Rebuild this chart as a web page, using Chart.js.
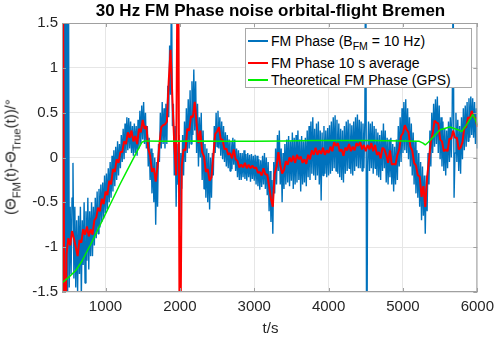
<!DOCTYPE html>
<html>
<head>
<meta charset="utf-8">
<title>30 Hz FM Phase noise orbital-flight Bremen</title>
<script src="https://cdn.jsdelivr.net/npm/chart.js@4.4.1/dist/chart.umd.min.js"></script>
<style>
  html, body { margin: 0; padding: 0; background: #fff; }
  #wrap { position: relative; width: 500px; height: 338px; font-family: "Liberation Sans", Arial, Helvetica, sans-serif; color: #262626; }
  #chart { position: absolute; left: 0; top: 0; }
  .title { position: absolute; left: 62px; width: 417px; top: 2px; line-height: 18px; text-align: center; font-weight: bold; font-size: 17px; color: #000; white-space: nowrap; }
  .xlabel { position: absolute; left: 62px; width: 417px; top: 319px; line-height: 18px; text-align: center; font-size: 15px; }
  .ylabel { position: absolute; left: 11px; top: 157px; line-height: 18px; transform: translate(-50%, -50%) rotate(-90deg); white-space: nowrap; font-size: 15px; font-weight: normal; }
  .sub { font-size: 0.75em; position: relative; top: 0.4em; }
  #legend { position: absolute; left: 245px; top: 28px; width: 227px; height: 60px; border: 1px solid #a8a8a8; box-sizing: border-box; background: #fff; font-size: 14px; color: #000; }
  .item { position: absolute; left: 2px; line-height: 16px; white-space: nowrap; }
  .swatch { display: inline-block; width: 20px; height: 2px; vertical-align: middle; margin-right: 3px; position: relative; top: -1px; }
</style>
</head>
<body>
<div id="wrap">
  <canvas id="chart" width="500" height="338"></canvas>
  <div class="title">30 Hz FM Phase noise orbital-flight Bremen</div>
  <div class="xlabel">t/s</div>
  <div class="ylabel">(&Theta;<span class="sub">FM</span>(t)-&Theta;<span class="sub">True</span>(t))/&deg;</div>
  <div id="legend">
    <div class="item" style="top:4px"><span class="swatch" style="background:#0072bd"></span>FM Phase (B<span class="sub">FM</span> = 10 Hz)</div>
    <div class="item" style="top:26px"><span class="swatch" style="background:#ff0000"></span>FM Phase 10 s average</div>
    <div class="item" style="top:43px"><span class="swatch" style="background:#00ee00"></span>Theoretical FM Phase (GPS)</div>
  </div>
</div>
<script>
// ---- data ----
// raw FM phase: one sample every 12.5 s from 425 s, 16 samples (200 s) per row
const rawStart = 425;
const rawStep = 12.5;
const fmPhase = [
  3, -3, 3, -3, 3, -3, 3, -1.45, -0.55, -1.30, -0.45, -0.06, -1.35, -0.55, -1.45, -0.70,               // 425
  -1.50, -0.65, -1.30, -0.55, -1.55, -0.70, -1.20, -0.50, -1.40, -0.60, -1.15, -0.45, -1.25, -0.60, -1.10, -0.50, // 625
  -1.10, -0.55, -0.98, -0.45, -0.90, -0.38, -0.85, -0.35, -0.78, -0.30, -0.72, -0.28, -0.68, -0.20, -0.62, -0.18, // 825
  -0.58, -0.12, -0.50, -0.05, -0.45, 0.02, -0.38, 0.08, -0.32, 0.12, -0.25, 0.18, -0.20, 0.15, -0.12, 0.25,       // 1025
  -0.05, 0.32, -0.02, 0.38, 0.05, 0.45, 0.08, 0.44, 0.10, 0.40, 0.05, 0.35, 0.02, 0.38, 0.05, 0.35,              // 1225
  0.02, 0.42, 0.10, 0.52, 0.15, 0.58, 0.20, 0.62, 0.15, 0.50, 0.10, 0.35, -0.10, 0.22, -0.25, 0.10,              // 1425
  -0.40, 0.05, -0.50, 0.00, -0.75, -0.05, -0.55, 0.15, -0.05, 0.50, 0.10, 0.62, 0.15, 0.55, 0.10, 0.60,           // 1625
  0.15, 0.80, 0.45, 1.25, 0.70, 2.0, 0.35, 0.60, -0.20, 0.35, -0.55, 0.15, -0.30, 0.25, -0.80, 0.05,             // 1825
  -0.35, 0.25, -0.20, 0.40, -0.05, 0.55, 0.05, 0.65, 0.10, 0.75, 0.15, 0.85, 0.25, 0.98, 0.30, 0.85,             // 2025
  0.05, 0.60, -0.10, 0.45, 0.00, 0.50, -0.25, 0.30, -0.35, 0.15, -0.45, 0.10, -0.50, 0.05, -0.58, 0.00,          // 2225
  -0.45, 0.05, -0.20, 0.35, 0.05, 0.50, 0.12, 0.52, 0.10, 0.45, 0.02, 0.40, -0.02, 0.35, -0.05, 0.28,            // 2425
  -0.10, 0.25, -0.12, 0.20, -0.15, 0.18, -0.13, 0.22, -0.08, 0.20, -0.15, 0.10, -0.22, 0.08, -0.25, 0.05,        // 2625
  -0.25, 0.05, -0.22, 0.08, -0.24, 0.04, -0.26, 0.05, -0.22, 0.03, -0.27, 0.04, -0.24, 0.02, -0.26, 0.03,        // 2825
  -0.30, 0.02, -0.32, -0.02, -0.36, -0.03, -0.33, 0.02, -0.30, 0.05, -0.35, 0.00, -0.42, -0.05, -0.60, -0.15,    // 3025
  -0.72, -0.25, -0.85, -0.05, -0.40, 0.10, -0.30, 0.25, -0.15, 0.30, -0.30, 0.10, -0.50, 0.05, -0.35, 0.15,      // 3225
  -0.30, 0.20, -0.28, 0.24, -0.32, 0.18, -0.26, 0.28, -0.35, 0.22, -0.30, 0.25, -0.28, 0.30, -0.25, 0.20,        // 3425
  -0.38, 0.24, -0.30, 0.18, -0.28, 0.22, -0.32, 0.30, -0.22, 0.35, -0.25, 0.40, -0.18, 0.45, -0.20, 0.32,        // 3625
  -0.25, 0.38, -0.20, 0.40, -0.30, 0.30, -0.48, 0.28, -0.20, 0.35, -0.18, 0.30, -0.22, 0.33, -0.20, 0.36,        // 3825
  -0.18, 0.40, -0.15, 0.45, -0.12, 0.47, -0.15, 0.42, -0.18, 0.38, -0.22, 0.32, -0.25, 0.30, -0.28, 0.35,        // 4025
  -0.18, 0.40, -0.15, 0.42, -0.12, 0.38, -0.18, 0.36, -0.20, 0.40, -0.15, 0.45, -0.10, 0.48, -0.12, 0.42,        // 4225
  -0.12, 0.40, -0.15, 0.38, -0.12, 0.40, 3, -3, -0.10, 0.40, -0.15, 0.38, -0.12, 0.40, -0.18, 0.35,              // 4425
  -0.12, 0.32, -0.20, 0.28, -0.22, 0.25, -0.25, 0.30, -0.15, 0.38, -0.12, 0.30, -0.28, 0.22, -0.30, 0.20,        // 4625
  -0.22, 0.22, -0.30, 0.15, -0.38, 0.12, -0.30, 0.20, -0.25, 0.35, -0.10, 0.45, -0.05, 0.55, 0.05, 0.62,         // 4825
  0.08, 0.65, 0.05, 0.55, -0.02, 0.45, -0.10, 0.38, -0.20, 0.28, -0.30, 0.18, -0.40, 0.08, -0.45, 0.05,          // 5025
  -0.55, -0.05, -0.70, -0.10, -0.65, -0.20, -0.85, -0.20, -0.60, 0.05, -0.30, 0.30, -0.10, 0.50, 0.05, 0.60,     // 5225
  0.12, 0.65, 0.15, 0.68, 0.05, 0.58, -0.02, 0.45, -0.10, 0.40, -0.15, 0.32, -0.20, 0.30, -0.12, 0.40,           // 5425
  -0.05, 0.45, 0.00, 0.52, 2.0, -0.45, 0.05, 0.50, -0.05, 0.42, -0.15, 0.35, -0.18, 0.45, -0.02, 0.55,           // 5625
  0.08, 0.58, 0.12, 0.62, 0.18, 0.66, 0.22, 0.68, 0.25, 0.66, 0.22, 0.62, 0.15, 0.55, 0.10, 0.40                 // 5825
];

// 10 s average: one sample every 25 s from 425 s, 8 samples (200 s) per row
const avgStart = 425;
const avgStep = 25;
const fmPhaseAvg = [
  3, -3, -1.08, -0.90, -0.98, -0.82, -0.90, -1.00,         // 425
  -1.10, -0.92, -0.95, -0.80, -0.86, -0.77, -0.88, -0.80,  // 625
  -0.86, -0.70, -0.67, -0.56, -0.60, -0.46, -0.52, -0.38,  // 825
  -0.42, -0.26, -0.30, -0.13, -0.16, -0.02, -0.06, 0.06,   // 1025
  0.06, 0.18, 0.15, 0.28, 0.22, 0.30, 0.18, 0.24,          // 1225
  0.15, 0.32, 0.28, 0.42, 0.32, 0.35, 0.10, 0.02,          // 1425
  -0.16, -0.12, -0.27, -0.10, 0.15, 0.34, 0.36, 0.37,      // 1625
  0.40, 0.85, 1.20, 0.65, 0.15, -0.20, 3, -3,              // 1825
  -0.10, 0.09, 0.08, 0.32, 0.30, 0.46, 0.45, 0.62,         // 2025
  0.38, 0.16, 0.30, 0.06, 0.01, -0.16, -0.13, -0.26,       // 2225
  -0.22, 0.02, 0.26, 0.29, 0.34, 0.20, 0.20, 0.09,         // 2425
  0.10, 0.03, 0.05, -0.01, 0.09, -0.02, -0.04, -0.11,      // 2625
  -0.08, -0.11, -0.06, -0.12, -0.08, -0.12, -0.09, -0.12,  // 2825
  -0.11, -0.17, -0.16, -0.20, -0.12, -0.19, -0.19, -0.32,  // 3025
  -0.46, -0.55, -0.18, -0.10, 0.06, -0.08, -0.18, -0.14,   // 3225
  -0.04, -0.08, 0.00, -0.05, 0.02, -0.06, 0.03, -0.02,     // 3425
  0.01, -0.06, -0.02, -0.07, 0.03, -0.02, 0.08, 0.03,      // 3625
  0.11, 0.03, 0.08, 0.04, 0.11, 0.03, 0.08, 0.05,          // 3825
  0.12, 0.07, 0.17, 0.13, 0.16, 0.07, 0.09, 0.02,          // 4025
  0.11, 0.08, 0.15, 0.07, 0.12, 0.08, 0.16, 0.13,          // 4225
  0.17, 0.09, 0.14, 0.07, 0.14, 0.09, 0.16, 0.07,          // 4425
  0.14, 0.03, 0.06, -0.01, 0.11, 0.09, 0.03, -0.06,        // 4625
  0.08, -0.08, -0.07, -0.08, 0.03, 0.09, 0.24, 0.27,       // 4825
  0.36, 0.31, 0.28, 0.12, 0.08, -0.06, -0.09, -0.20,       // 5025
  -0.21, -0.44, -0.32, -0.55, -0.22, -0.03, 0.18, 0.27,    // 5225
  0.41, 0.39, 0.38, 0.20, 0.18, 0.07, 0.09, 0.07,          // 5425
  0.21, 0.21, 0.30, 0.22, 0.22, 0.09, 0.11, 0.17,          // 5625
  0.33, 0.34, 0.45, 0.43, 0.52, 0.45, 0.44, 0.34           // 5825
];

const gpsTime = [415, 500, 600, 680, 800, 900, 1000, 1100, 1200, 1300, 1400, 1490, 1530,
  1800, 2200, 2600, 3000, 3400, 3800, 4200, 4600, 5000, 5220, 5270, 5300, 5340, 5420,
  5500, 5630, 5740, 5790, 5860, 5940, 5975, 6000];
const gpsPhase = [-1.40, -1.34, -1.26, -1.16, -0.97, -0.80, -0.63, -0.46, -0.29, -0.13, 0.03, 0.17, 0.185,
  0.18, 0.185, 0.18, 0.18, 0.185, 0.19, 0.19, 0.19, 0.185, 0.18, 0.16, 0.14, 0.17, 0.24,
  0.31, 0.34, 0.31, 0.29, 0.37, 0.48, 0.42, 0.36];

const xTicks = [1000, 2000, 3000, 4000, 5000, 6000];
const yTicks = [-1.5, -1, -0.5, 0, 0.5, 1, 1.5];

// ---- build chart ----
const sampled = (vals, start, step) => vals.map((v, i) => ({ x: start + i * step, y: v }));
const gpsPoints = gpsTime.map((t, i) => ({ x: t, y: gpsPhase[i] }));

const axisColor = '#a0a0a0';

// box around the axes with inward tick marks (MATLAB style)
const axesBox = {
    id: 'axesBox',
    afterDatasetsDraw(chart) {
        const { ctx, chartArea: a, scales } = chart;
        ctx.save();
        ctx.strokeStyle = axisColor;
        ctx.lineWidth = 1;
        ctx.strokeRect(a.left + 0.5, a.top + 0.5, a.right - a.left - 1, a.bottom - a.top - 1);
        ctx.beginPath();
        xTicks.forEach(v => {
            const x = Math.round(scales.x.getPixelForValue(v)) + 0.5;
            ctx.moveTo(x, a.bottom); ctx.lineTo(x, a.bottom - 4);
            ctx.moveTo(x, a.top); ctx.lineTo(x, a.top + 4);
        });
        yTicks.forEach(v => {
            const y = Math.round(scales.y.getPixelForValue(v)) + 0.5;
            ctx.moveTo(a.left, y); ctx.lineTo(a.left + 4, y);
            ctx.moveTo(a.right, y); ctx.lineTo(a.right - 4, y);
        });
        ctx.stroke();
        ctx.restore();
    }
};

new Chart(document.getElementById('chart'), {
    type: 'line',
    data: {
        datasets: [
            {
                label: 'Theoretical FM Phase (GPS)',
                data: gpsPoints,
                borderColor: '#00ee00',
                borderWidth: 1.5,
                order: 0
            },
            {
                label: 'FM Phase 10 s average',
                data: sampled(fmPhaseAvg, avgStart, avgStep),
                borderColor: '#ff0000',
                borderWidth: 2,
                order: 1
            },
            {
                label: 'FM Phase (B_FM = 10 Hz)',
                data: sampled(fmPhase, rawStart, rawStep),
                borderColor: '#0072bd',
                borderWidth: 1.4,
                order: 2
            }
        ]
    },
    options: {
        responsive: false,
        animation: false,
        devicePixelRatio: 1,
        parsing: false,
        normalized: true,
        layout: { padding: { left: 0, right: 21, top: 23, bottom: 0 } },
        elements: {
            point: { radius: 0 },
            line: { tension: 0, fill: false, borderJoinStyle: 'bevel' }
        },
        datasets: { line: { clip: 0 } },
        plugins: {
            legend: { display: false },
            title: { display: false },
            tooltip: { enabled: false }
        },
        scales: {
            x: {
                type: 'linear',
                min: 415,
                max: 6000,
                afterFit(s) { s.height = 46; },
                afterBuildTicks(s) { s.ticks = xTicks.map(v => ({ value: v })); },
                grid: { color: '#e6e6e6', drawTicks: false },
                border: { display: false },
                ticks: {
                    padding: 6,
                    maxRotation: 0,
                    color: '#262626',
                    font: { family: '"Liberation Sans", Arial, sans-serif', size: 15 },
                    callback: v => String(v)
                }
            },
            y: {
                type: 'linear',
                min: -1.5,
                max: 1.5,
                afterFit(s) { s.width = 62; },
                afterBuildTicks(s) { s.ticks = yTicks.map(v => ({ value: v })); },
                grid: { color: '#e6e6e6', drawTicks: false },
                border: { display: false },
                ticks: {
                    padding: 4,
                    color: '#262626',
                    font: { family: '"Liberation Sans", Arial, sans-serif', size: 15 },
                    callback: v => String(v)
                }
            }
        }
    },
    plugins: [axesBox]
});
</script>
</body>
</html>
